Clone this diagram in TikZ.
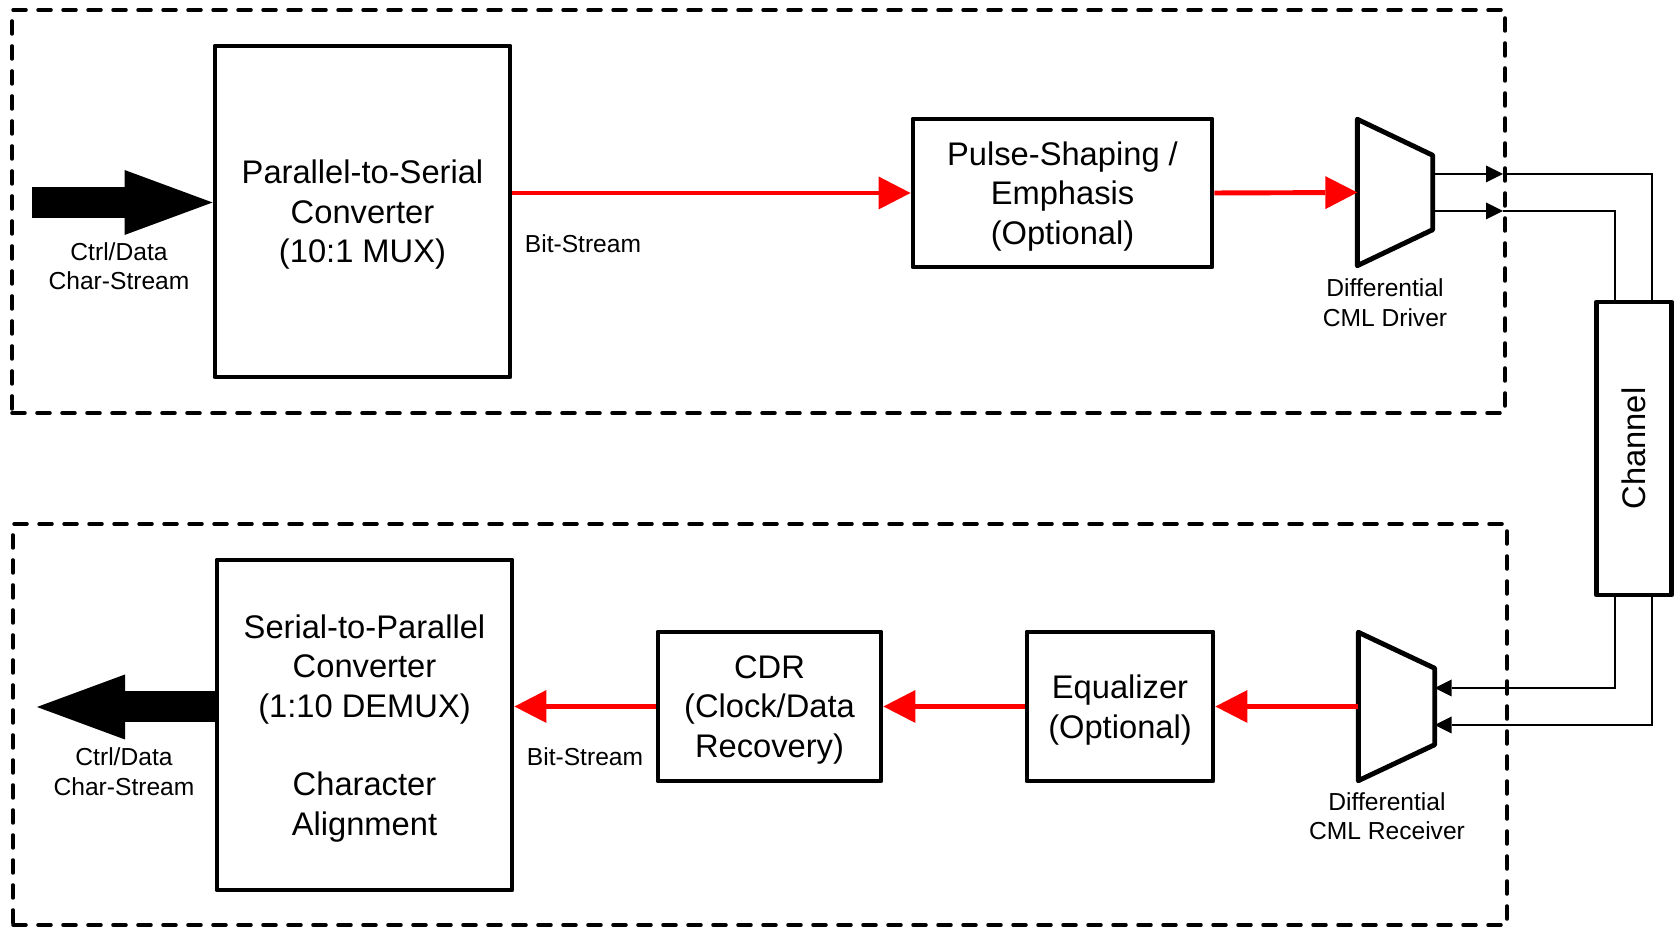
\documentclass[tikz,border=0pt]{standalone}
\usepackage{fontspec}
\setmainfont{Liberation Sans}
\usetikzlibrary{arrows.meta}

\begin{document}
\begin{tikzpicture}[
        block/.style={draw, line width=1.4pt, line join=round, inner sep=0pt, text depth=0pt, align=center, font=\fontsize{9.3}{11.2}\selectfont},
        frame/.style={draw, line width=1pt, line cap=round, dash pattern=on 0.13cm off 0.12cm, inner sep=0pt},
        note/.style={align=center, font=\fontsize{7}{8.4}\selectfont},
        bitline/.style={red, line width=1.4pt, -{Triangle[length=0.32cm, width=0.33cm, line width=0pt]}},
        wire/.style={line width=0.5pt},
        wirearrow/.style={line width=0.5pt, -{Triangle[length=0.17cm, width=0.17cm, line width=0pt]}},
        bigarrow/.style={line width=0.31cm, -{Triangle[length=0.88cm, width=0.65cm, line width=0pt]}}
    ]
    \useasboundingbox (0, 0) rectangle (16.77, 9.27);

    \node[frame, minimum width=14.93cm, minimum height=4.03cm] (txframe) at (7.585, 7.155) {};
    \node[frame, minimum width=14.94cm, minimum height=4.01cm] (rxframe) at (7.60, 2.025) {};

    \node[block, minimum width=2.95cm, minimum height=3.31cm] (p2s) at (3.625, 7.155) {Parallel-to-Serial\\Converter\\(10:1 MUX)};
    \node[block, minimum width=2.99cm, minimum height=1.48cm] (pulse) at (10.625, 7.34) {Pulse-Shaping /\\Emphasis\\(Optional)};
    \node[inner sep=0pt, minimum width=0.74cm, minimum height=1.45cm] (drv) at (13.95, 7.345) {};

    \node[block, minimum width=2.95cm, minimum height=3.30cm] (s2p) at (3.645, 2.02) {Serial-to-Parallel\\Converter\\(1:10 DEMUX)\\[11.2pt]Character\\Alignment};
    \node[block, minimum width=2.23cm, minimum height=1.49cm] (cdr) at (7.695, 2.205) {CDR\\(Clock/Data\\Recovery)};
    \node[block, minimum width=1.86cm, minimum height=1.49cm] (eq) at (11.20, 2.205) {Equalizer\\(Optional)};
    \node[inner sep=0pt, minimum width=0.75cm, minimum height=1.47cm] (rcv) at (13.965, 2.205) {};

    \node[block, minimum width=0.75cm, minimum height=2.93cm] (ch) at (16.34, 4.785) {};
    \node[rotate=90, font=\fontsize{9.3}{11.2}\selectfont] (chname) at (ch) {Channel};

    \foreach \n in {drv, rcv}
        \draw[line width=1.4pt, line join=round] (\n.north west) -- ([yshift=-3.6mm]\n.north east) -- ([yshift=3.6mm]\n.south east) -- (\n.south west) -- cycle;

    \coordinate (chin) at (0.32, 7.245);
    \coordinate (chout) at (0.37, 2.20);
    \coordinate (drvp) at (15.03, 7.53);
    \coordinate (drvn) at (15.03, 7.16);

    \draw[bigarrow] (chin) -- (chin -| p2s.west);
    \draw[bigarrow] (s2p.west |- chout) -- (chout);

    \draw[bitline] (pulse.west -| p2s.east) -- (pulse.west);
    \draw[bitline] (pulse.east) -- (drv.west);
    \draw[bitline] (rcv.west) -- (eq.east);
    \draw[bitline] (eq.west) -- (cdr.east);
    \draw[bitline] (cdr.west) -- (cdr.west -| s2p.east);

    \draw[wirearrow] ([yshift=1.85mm]drv.east) -- (drvp);
    \draw[wirearrow] ([yshift=-1.85mm]drv.east) -- (drvn);
    \draw[wire] (drvp) -| ([xshift=1.8mm]ch.north);
    \draw[wire] (drvn) -| ([xshift=-1.9mm]ch.north);
    \draw[wirearrow] ([xshift=-1.9mm]ch.south) |- ([yshift=1.85mm]rcv.east);
    \draw[wirearrow] ([xshift=1.8mm]ch.south) |- ([yshift=-1.85mm]rcv.east);

    \node[note] (txchars) at (1.19, 6.61) {Ctrl/Data\\Char-Stream};
    \node[note] (rxchars) at (1.24, 1.555) {Ctrl/Data\\Char-Stream};
    \node[note] (txbits) at (5.83, 6.83) {Bit-Stream};
    \node[note] (rxbits) at (5.85, 1.70) {Bit-Stream};
    \node[note] (drvname) at (13.85, 6.245) {Differential\\CML Driver};
    \node[note] (rcvname) at (13.87, 1.11) {Differential\\CML Receiver};
\end{tikzpicture}
\end{document}
